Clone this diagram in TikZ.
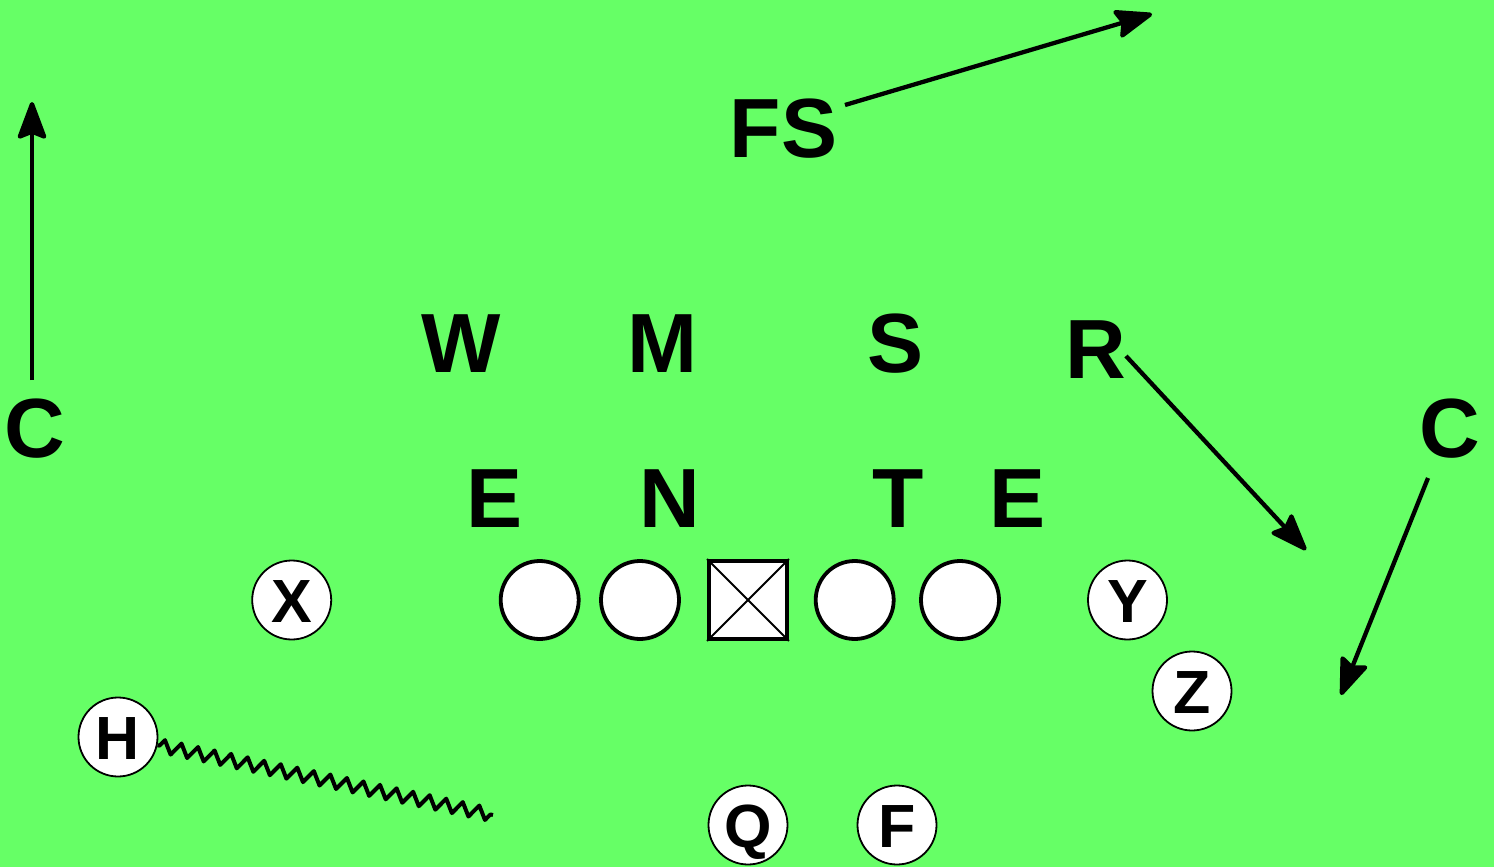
\documentclass[tikz,border=0pt]{standalone}
\usepackage{fontspec}
\setmainfont{Liberation Sans}
\usetikzlibrary{arrows.meta,decorations.pathmorphing}
\definecolor{field}{HTML}{66FF66}
\begin{document}
\begin{tikzpicture}[x=1pt,y=-1pt,
  big/.style={font=\fontsize{84}{84}\selectfont\bfseries, inner sep=0pt, anchor=base},
  skill/.style={circle, draw=black, line width=1.8pt, fill=white, minimum size=79pt, inner sep=0pt,
     font=\fontsize{61}{61}\selectfont\bfseries, text height=44pt, text depth=0pt},
  lineman/.style={circle, draw=black, line width=3.8pt, fill=white, minimum size=78pt, inner sep=0pt},
  centerbox/.style={rectangle, draw=black, line width=3.8pt, fill=white, minimum size=78pt, inner sep=0pt},
  arr/.style={line width=4.3pt, -{Stealth[length=42pt,width=31pt,inset=6pt,round]}},
  motion/.style={line width=4pt, line join=round, decorate, decoration={zigzag, segment length=16.9pt, amplitude=6.5pt, pre length=2pt, post length=2pt}}]
\useasboundingbox (0,0) rectangle (1494,867);
\fill[field] (0,0) rectangle (1494,867);

% defense
\node[big] (FS) at (783.5,157) {FS};
\node[big] (W) at (461,372) {W};
\node[big] (M) at (662,372) {M};
\node[big] (S) at (896,372) {S};
\node[big] (R) at (1096,378) {R};
\node[big] (CL) at (35,457) {C};
\node[big] (CR) at (1450,457) {C};
\node[big] (E1) at (495,527) {E};
\node[big] (N) at (670,527) {N};
\node[big] (T) at (898,527) {T};
\node[big] (E2) at (1018,527) {E};

% offense
\node[lineman] (LT) at (539.7,600) {};
\node[lineman] (LG) at (640,600) {};
\node[centerbox] (CC) at (748,600) {};
\draw[line width=1.8pt] (CC.north west) -- (CC.south east) (CC.north east) -- (CC.south west);
\node[lineman] (RG) at (854.7,600) {};
\node[lineman] (RT) at (960,600) {};
\node[skill] (X) at (291.7,600) {X};
\node[skill] (Y) at (1127.5,600) {Y};
\node[skill] (Z) at (1192,691) {Z};
\node[skill] (H) at (118,737) {H};
\node[skill] (Q) at (748,825) {Q};
\node[skill] (F) at (897,825) {F};

% routes
\coordinate (cl0) at (32,380);
\coordinate (cl1) at (32,102);
\coordinate (fs0) at (845,105);
\coordinate (fs1) at (1152,14);
\coordinate (r0) at (1126,356);
\coordinate (r1) at (1306,550);
\coordinate (cr0) at (1428,478);
\coordinate (cr1) at (1341,695);
\coordinate (hend) at (493,815);

\draw[arr] (cl0) -- (cl1);
\draw[arr] (fs0) -- (fs1);
\draw[arr] (r0) -- (r1);
\draw[arr] (cr0) -- (cr1);
\draw[motion] (H) -- (hend);
\end{tikzpicture}
\end{document}
